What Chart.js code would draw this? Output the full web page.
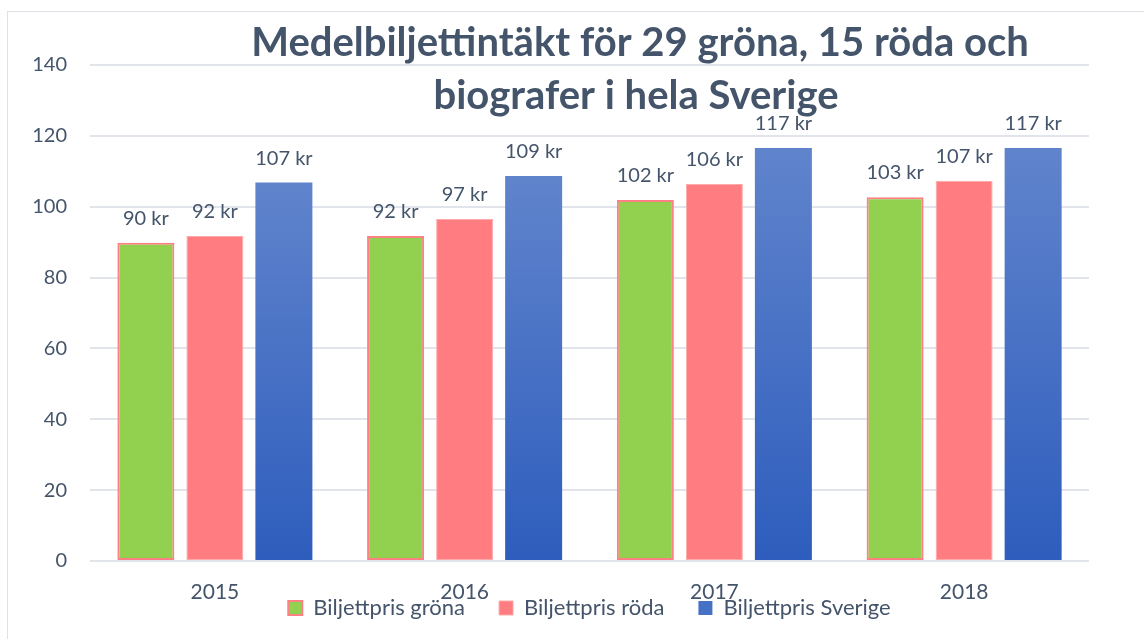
<!DOCTYPE html>
<html lang="sv">
<head>
<meta charset="UTF-8">
<title>Medelbiljettintäkt</title>
<script src="https://cdn.jsdelivr.net/npm/chart.js"></script>
<style>
  html, body { margin: 0; padding: 0; background: #ffffff; }
  canvas { display: block; }
</style>
</head>
<body>
<canvas id="myChart" width="1144" height="639"></canvas>
<script>
  // data
  const years = ['2015', '2016', '2017', '2018'];
  const grona = [89.8, 91.7, 101.9, 102.7];
  const roda = [91.7, 96.5, 106.4, 107.3];
  const sverige = [106.8, 108.7, 116.6, 116.6];
  const seriesNames = ['Biljettpris gröna', 'Biljettpris röda', 'Biljettpris Sverige'];
  const titleLines = ['Medelbiljettintäkt för 29 gröna, 15 röda och', 'biografer i hela Sverige'];

  const textColor = '#44546a';
  const fontFamily = 'Lato, "Open Sans", sans-serif';

  // vertical gradient for each blue bar, from its top down to zero
  function blueFill(c) {
    const chart = c.chart;
    if (!chart.chartArea || c.type !== 'data') return '#4a72c6';
    let y = chart.scales.y;
    let top = y.getPixelForValue(c.raw);
    let bottom = y.getPixelForValue(0);
    let g = chart.ctx.createLinearGradient(0, top, 0, bottom);
    g.addColorStop(0, '#6084cc');
    g.addColorStop(1, '#2e5dbd');
    return g;
  }

  // light frame round the whole chart
  const framePlugin = {
    id: 'frame',
    beforeDraw(chart) {
      let ctx = chart.ctx;
      ctx.save();
      ctx.strokeStyle = '#dde2e9';
      ctx.lineWidth = 1;
      ctx.strokeRect(7.5, 11.5, 1300, 800);
      ctx.restore();
    }
  };

  // the original legend overlaps the year labels, so pull it up a bit
  const legendShift = {
    id: 'legendShift',
    afterLayout(chart) {
      let lg = chart.legend;
      if (!lg) return;
      lg.top -= 42;
      lg.height = lg.bottom - lg.top;
    }
  };

  // "90 kr" style labels above the bars
  const valueLabels = {
    id: 'valueLabels',
    afterDatasetsDraw(chart) {
      let ctx = chart.ctx;
      ctx.save();
      ctx.font = '20px ' + fontFamily;
      ctx.fillStyle = textColor;
      ctx.textAlign = 'center';
      ctx.textBaseline = 'alphabetic';
      chart.data.datasets.forEach((ds, i) => {
        chart.getDatasetMeta(i).data.forEach((bar, j) => {
          ctx.fillText(Math.round(ds.data[j]) + ' kr', bar.x, bar.y - 18);
        });
      });
      ctx.restore();
    }
  };

  // title sits over the top of the plot, like the original
  const overTitle = {
    id: 'overTitle',
    afterDraw(chart) {
      let ctx = chart.ctx;
      ctx.save();
      ctx.font = 'bold 40px ' + fontFamily;
      ctx.fillStyle = textColor;
      ctx.textAlign = 'center';
      ctx.textBaseline = 'alphabetic';
      ctx.fillText(titleLines[0], 640, 56);
      ctx.fillText(titleLines[1], 636, 109);
      ctx.restore();
    }
  };

  let ctx = document.getElementById('myChart').getContext('2d');
  let myChart = new Chart(ctx, {
    type: 'bar',
    data: {
      labels: years,
      datasets: [{
        label: seriesNames[0],
        data: grona,
        backgroundColor: '#92d050',
        borderColor: '#ff8084',
        borderWidth: 2,
        borderSkipped: false
      }, {
        label: seriesNames[1],
        data: roda,
        backgroundColor: '#ff7c80',
        borderColor: '#ffa9ab',
        borderWidth: 1,
        borderSkipped: false
      }, {
        label: seriesNames[2],
        data: sverige,
        backgroundColor: blueFill,
        borderWidth: 0
      }]
    },
    options: {
      responsive: false,
      animation: false,
      categoryPercentage: 0.829,
      barPercentage: 0.826,
      layout: {
        padding: { left: 0, right: 55, top: 65, bottom: 16 }
      },
      scales: {
        x: {
          grid: { display: false, drawTicks: false },
          border: { display: false },
          ticks: {
            color: textColor,
            font: { family: fontFamily, size: 21 },
            padding: 19
          },
          afterFit(scale) { scale.height = 44; }
        },
        y: {
          min: 0,
          max: 140,
          ticks: {
            stepSize: 20,
            color: textColor,
            font: { family: fontFamily, size: 20 },
            padding: 23
          },
          grid: { color: '#e1e5eb', lineWidth: 2, drawTicks: false },
          border: { display: false },
          afterFit(scale) { scale.width = 90; }
        }
      },
      plugins: {
        title: { display: false },
        tooltip: { enabled: false },
        legend: {
          position: 'bottom',
          fullSize: false,
          maxHeight: 18,
          labels: {
            color: textColor,
            font: { family: fontFamily, size: 22 },
            boxWidth: 14,
            boxHeight: 14,
            padding: 34,
            generateLabels(chart) {
              let items = Chart.defaults.plugins.legend.labels.generateLabels(chart);
              items[2].fillStyle = '#4671c5';
              return items;
            }
          }
        }
      }
    },
    plugins: [framePlugin, legendShift, valueLabels, overTitle]
  });
</script>
</body>
</html>
